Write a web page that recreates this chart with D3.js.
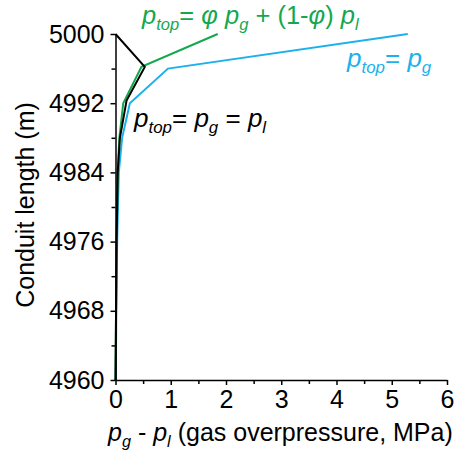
<!DOCTYPE html>
<html>
<head>
<meta charset="utf-8">
<script src="https://cdn.jsdelivr.net/npm/d3@7"></script>
<style>
  html, body { margin: 0; padding: 0; background: #fff; }
  svg { display: block; font-family: "Liberation Sans", Arial, sans-serif; }
</style>
</head>
<body>
<div id="chart"></div>
<script>
// ---- data ----
const xTicks = [0, 1, 2, 3, 4, 5, 6];
const xMinorTicks = [0.5, 1.5, 2.5, 3.5, 4.5, 5.5];
const yTicks = [4960, 4968, 4976, 4984, 4992, 5000];
const yMinorTicks = [4964, 4972, 4980, 4988, 4996];

// depth (conduit length, m)
const depthBlack = [5000, 4996.2, 4992.3, 4988, 4984, 4976, 4968, 4960];
const overBlack  = [0, 0.53, 0.2, 0.08, 0.04, 0.02, 0.01, 0];

const depthGreen = [5000, 4996.2, 4992, 4988, 4984, 4976, 4968, 4960];
const overGreen  = [1.85, 0.47, 0.14, 0.07, 0.04, 0.02, 0.01, 0];

const depthBlue = [5000, 4996, 4992, 4988, 4984, 4976, 4968, 4960];
const overBlue  = [5.29, 0.95, 0.26, 0.12, 0.06, 0.03, 0.015, 0.005];

const colBlack = "#000000";
const colGreen = "#14a84e";
const colBlue  = "#1bb1ec";

// ---- layout ----
const W = 464, H = 452;
const x = d3.scaleLinear().domain([0, 6]).range([115.5, 447]);
const y = d3.scaleLinear().domain([4960, 5000]).range([380, 34]);

const svg = d3.select("#chart").append("svg").attr("width", W).attr("height", H);

// lines
const line = d3.line().x(d => x(d[0])).y(d => y(d[1]));
function series(xs, ys, color) {
  svg.append("path")
    .datum(xs.map((v, i) => [v, ys[i]]))
    .attr("d", line)
    .attr("fill", "none")
    .attr("stroke", color)
    .attr("stroke-width", 2)
    .attr("stroke-linejoin", "miter");
}
series(overBlue, depthBlue, colBlue);
series(overGreen, depthGreen, colGreen);
series(overBlack, depthBlack, colBlack);

// axes
const fs = 25;
const yAxis = svg.append("g").attr("transform", `translate(${x(0)},0)`)
  .call(d3.axisLeft(y).tickValues(yTicks).tickFormat(d3.format("d")).tickSize(5).tickSizeOuter(0).tickPadding(6));
const yMinor = svg.append("g").attr("transform", `translate(${x(0)},0)`)
  .call(d3.axisLeft(y).tickValues(yMinorTicks).tickFormat("").tickSize(4).tickSizeOuter(0));
const xAxis = svg.append("g").attr("transform", `translate(0,${y(4960)})`)
  .call(d3.axisBottom(x).tickValues(xTicks).tickFormat(d3.format("d")).tickSize(5).tickSizeOuter(0).tickPadding(5));
const xMinor = svg.append("g").attr("transform", `translate(0,${y(4960)})`)
  .call(d3.axisBottom(x).tickValues(xMinorTicks).tickFormat("").tickSize(4).tickSizeOuter(0));

[yAxis, yMinor, xAxis, xMinor].forEach(g => {
  g.selectAll(".domain").attr("stroke", "#000").attr("stroke-width", 1.5);
  g.selectAll(".tick line").attr("stroke", "#000").attr("stroke-width", 1.5);
  g.selectAll(".tick text").attr("fill", "#000").style("font-size", fs + "px")
    .style("font-family", '"Liberation Sans", Arial, sans-serif');
});
yMinor.select(".domain").remove();
xMinor.select(".domain").remove();

// y-axis title
svg.append("text")
  .attr("transform", `translate(34,205) rotate(-90)`)
  .attr("text-anchor", "middle")
  .style("font-size", fs + "px")
  .attr("fill", "#000")
  .text("Conduit length (m)");

// helper for math-like labels: parts [{t, it, sub}]
function rich(xp, yp, parts, color, size, shift) {
  const t = svg.append("text").attr("x", xp).attr("y", yp)
    .attr("fill", color).style("font-size", size + "px");
  let shifted = false;
  parts.forEach(p => {
    const ts = t.append("tspan").text(p.t);
    if (p.it) ts.style("font-style", "italic");
    if (p.sub) {
      ts.style("font-size", (size * 0.65) + "px");
      if (!shifted) { ts.attr("dy", shift); shifted = true; }
    } else if (shifted) { ts.attr("dy", -shift); shifted = false; }
  });
  return t;
}

// x-axis title
rich(108, 441, [
  {t: "p", it: true}, {t: "g", it: true, sub: true}, {t: " - "},
  {t: "p", it: true}, {t: "l", it: true, sub: true}, {t: " (gas overpressure, MPa)"}
], "#000", fs, 6);

// annotations
rich(142, 24, [
  {t: "p", it: true}, {t: "top", it: true, sub: true}, {t: "= "},
  {t: "φ", it: true}, {t: " "}, {t: "p", it: true}, {t: "g", it: true, sub: true},
  {t: " + (1-"}, {t: "φ", it: true}, {t: ") "}, {t: "p", it: true}, {t: "l", it: true, sub: true}
], colGreen, 25.5, 6);

rich(134, 127, [
  {t: "p", it: true}, {t: "top", it: true, sub: true}, {t: "= "},
  {t: "p", it: true}, {t: "g", it: true, sub: true}, {t: " = "},
  {t: "p", it: true}, {t: "l", it: true, sub: true}
], colBlack, 26, 6);

rich(347, 67, [
  {t: "p", it: true}, {t: "top", it: true, sub: true}, {t: "= "},
  {t: "p", it: true}, {t: "g", it: true, sub: true}
], colBlue, 26, 6);
</script>
</body>
</html>
